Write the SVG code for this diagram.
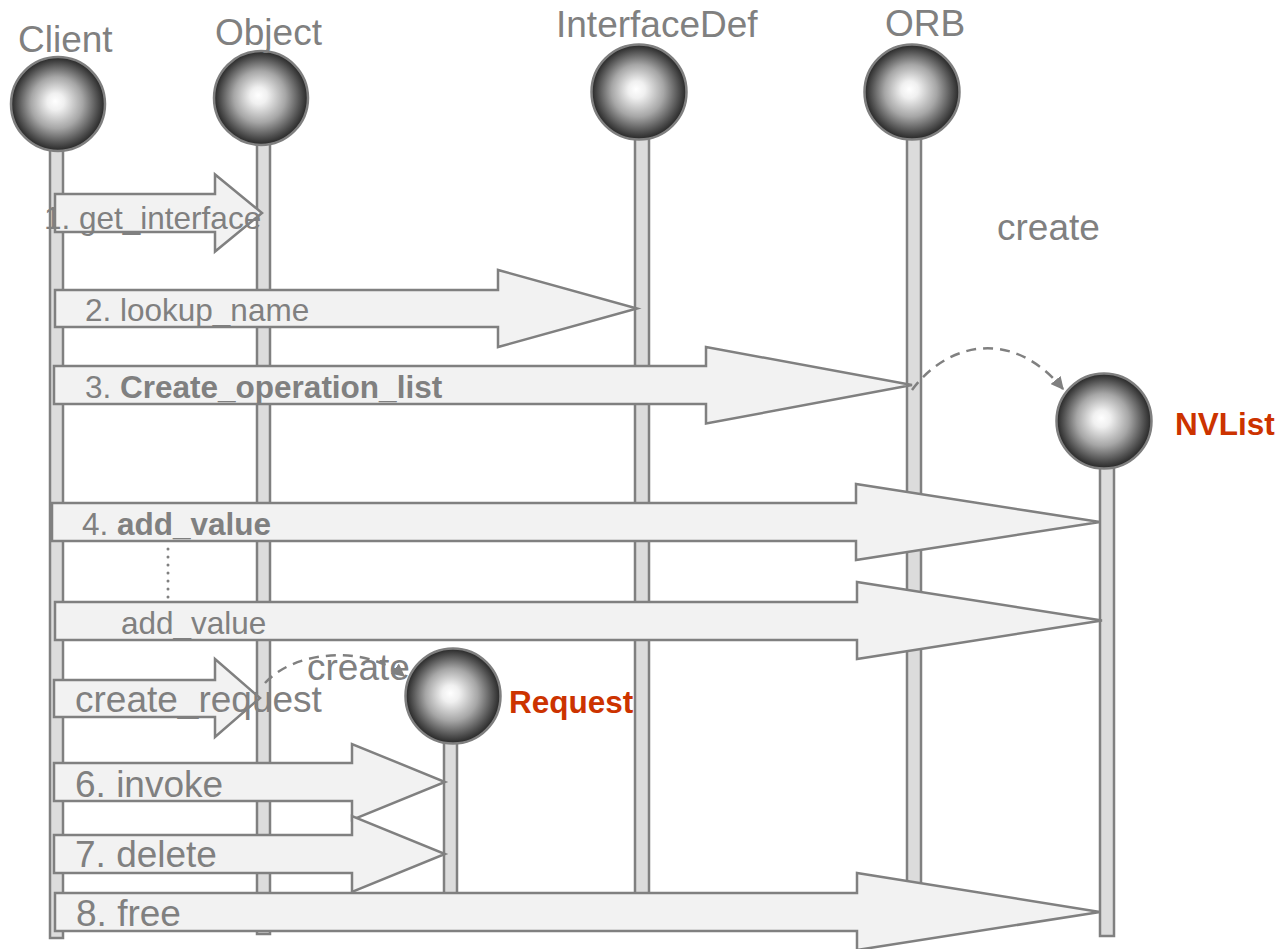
<svg xmlns="http://www.w3.org/2000/svg" width="1279" height="949" viewBox="0 0 1279 949">
  <style>
    .bar { fill: #dcdcdc; stroke: #808080; stroke-width: 2.5; }
    .ball { fill: url(#sphere); stroke: #7f7f7f; stroke-width: 2.5; }
    .title { font-family: "Liberation Sans", Arial, sans-serif; font-size: 37px; fill: #808080; }
    .lbl { font-family: "Liberation Sans", Arial, sans-serif; font-size: 31.5px; fill: #808080; }
    .big { font-family: "Liberation Sans", Arial, sans-serif; font-size: 37px; fill: #808080; }
    .obj { font-family: "Liberation Sans", Arial, sans-serif; font-size: 31.5px; font-weight: bold; fill: #cc3300; }
    .b { font-weight: bold; }
    .blk { fill: #f2f2f2; stroke: #808080; stroke-width: 2.5; stroke-linejoin: miter; }
    .dash { fill: none; stroke: #808080; stroke-width: 2.5; stroke-dasharray: 10 7; }
    .dots { fill: none; stroke: #808080; stroke-width: 3; stroke-linecap: round; stroke-dasharray: 0 8; }
  </style>
  <defs>
    <radialGradient id="sphere" cx="50%" cy="50%" r="50%" fx="47%" fy="47%">
      <stop offset="0" stop-color="#ffffff"/>
      <stop offset="0.18" stop-color="#f0f0f0"/>
      <stop offset="0.55" stop-color="#a6a6a6"/>
      <stop offset="0.85" stop-color="#505050"/>
      <stop offset="1" stop-color="#262626"/>
    </radialGradient>
    <marker id="ah" viewBox="0 0 10 10" refX="9" refY="5" markerWidth="5.2" markerHeight="5.2" orient="auto" markerUnits="strokeWidth">
      <path d="M0,0 L10,5 L0,10 z" fill="#808080"/>
    </marker>
  </defs>

  <rect width="1279" height="949" fill="#ffffff"/>

  <!-- objects: sphere head, lifeline bar, name -->
  <g id="client">
    <rect class="bar" x="50" y="148" width="13" height="790"/>
    <circle class="ball" cx="58" cy="104" r="47"/>
    <text class="title" x="18" y="52">Client</text>
  </g>
  <g id="object">
    <rect class="bar" x="257" y="142" width="13" height="792"/>
    <circle class="ball" cx="261" cy="98" r="47"/>
    <text class="title" x="215" y="45">Object</text>
  </g>
  <g id="interfacedef">
    <rect class="bar" x="635" y="137" width="14" height="765"/>
    <circle class="ball" cx="639" cy="92" r="47.5"/>
    <text class="title" x="556" y="37">InterfaceDef</text>
  </g>
  <g id="orb">
    <rect class="bar" x="907" y="136" width="14" height="765"/>
    <circle class="ball" cx="912" cy="92" r="47.5"/>
    <text class="title" x="885" y="36">ORB</text>
  </g>
  <g id="nvlist">
    <rect class="bar" x="1100" y="465" width="14" height="471"/>
    <circle class="ball" cx="1104" cy="421" r="47.5"/>
    <text class="obj" x="1175" y="435">NVList</text>
  </g>
  <g id="request">
    <rect class="bar" x="444" y="741" width="13" height="160"/>
    <circle class="ball" cx="453" cy="696" r="47.5"/>
    <text class="obj" x="509" y="713">Request</text>
  </g>

  <!-- messages -->
  <g id="connectors">
    <!-- 1. get_interface : Client -> Object -->
    <path class="blk" d="M55,194 H215 V174.5 L262,213 L215,251.5 V232 H55 Z"/>
    <text class="lbl" x="44" y="229">1. get_interface</text>

    <!-- 2. lookup_name : Client -> InterfaceDef -->
    <path class="blk" d="M55,290 H498 V270 L637,308.5 L498,347 V327 H55 Z"/>
    <text class="lbl" x="85" y="321">2. lookup_name</text>

    <!-- 3. create_operation_list : Client -> ORB -->
    <path class="blk" d="M54,366 H706 V347 L912,385 L706,423.5 V404 H54 Z"/>
    <text class="lbl" x="85" y="398">3. <tspan class="b">Create_operation_list</tspan></text>

    <!-- ORB creates the NVList -->
    <path class="dash" d="M912,390 C945,345 1010,325 1063,389" marker-end="url(#ah)"/>
    <text class="big" x="997" y="240">create</text>

    <!-- 4. add_value : Client -> NVList -->
    <path class="blk" d="M52,503 H856 V484 L1100,522 L856,560 V541 H52 Z"/>
    <text class="lbl" x="82" y="535">4. <tspan class="b">add_value</tspan></text>

    <!-- repeated add_value calls -->
    <line class="dots" x1="168" y1="549" x2="168" y2="598"/>
    <path class="blk" d="M55,602 H857 V582 L1102,620.5 L857,659 V640 H55 Z"/>
    <text class="lbl" x="121" y="634">add_value</text>

    <!-- create_request : Client -> Object -->
    <path class="blk" d="M54,680 H215 V659 L260,698 L215,737 V717 H54 Z"/>
    <text class="big" x="75" y="712">create_request</text>

    <!-- Object creates the Request -->
    <path class="dash" d="M265,683 C295,650 365,645 404,676" marker-end="url(#ah)"/>
    <text class="big" x="307" y="680">create</text>

    <!-- 6. invoke : Client -> Request -->
    <path class="blk" d="M54,763 H352 V744 L445,782 L352,820 V801 H54 Z"/>
    <text class="big" x="75" y="797">6. invoke</text>

    <!-- 7. delete : Client -> Request -->
    <path class="blk" d="M54,835 H352 V816 L445,854 L352,892 V873 H54 Z"/>
    <text class="big" x="75" y="867">7. delete</text>

    <!-- 8. free : Client -> NVList -->
    <path class="blk" d="M55,893 H857 V873 L1100,912 L857,950 V931 H55 Z"/>
    <text class="big" x="76" y="926">8. free</text>
  </g>
</svg>
